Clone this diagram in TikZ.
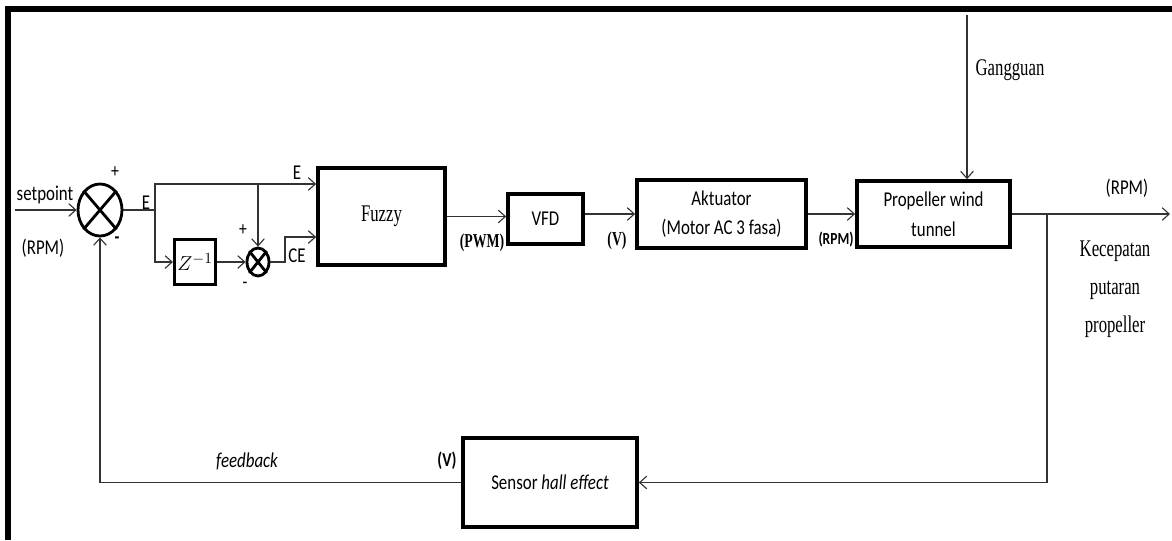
\documentclass[tikz,border=0pt]{standalone}
\usepackage{fontspec}
\setmainfont{Carlito}[FakeStretch=0.8]
\newfontfamily\timesc{Liberation Serif}[FakeStretch=0.7]
\usepackage{tikz}
\usetikzlibrary{arrows.meta,positioning,shapes.geometric}
\definecolor{WireGray}{HTML}{333333}
\tikzset{
  blokbox/.style={draw=black,line width=2.6pt,align=center,inner sep=2pt,font=\fontsize{15}{21}\selectfont,fill=white},
  sumnode/.style={draw=black,ellipse,line width=2pt,inner sep=0pt},
  sigarrow/.style={-{Straight Barb[length=5pt,width=9pt]},line width=0.8pt,draw=WireGray},
  lbl/.style={inner sep=1pt,font=\fontsize{15}{17}\selectfont},
  serlbl/.style={inner sep=1pt,align=center,font=\timesc\fontsize{17}{27}\selectfont},
  smallbold/.style={inner sep=1pt,font=\bfseries\fontsize{12}{13}\selectfont},
  signlbl/.style={inner sep=1pt,font=\fontsize{14}{15}\selectfont}
}

\begin{document}
\begin{tikzpicture}[x=0.025cm,y=-0.025cm]
\useasboundingbox (0,0) rectangle (1172,540);
% frame
\draw[line width=4.3pt] (8,540) -- (8,9) -- (1172,9);

% blocks
\node[sumnode,minimum width=1.1cm,minimum height=1.3cm] (sum1) at (100,210) {};
\draw[line width=2pt] (sum1.north west) -- (sum1.south east) (sum1.north east) -- (sum1.south west);
\node[blokbox,line width=2.2pt,minimum width=1.0cm,minimum height=1.125cm,font=\fontsize{15}{17}\selectfont] (zdel) at (195,262) {$Z^{-1}$};
\node[sumnode,minimum width=0.55cm,minimum height=0.7cm] (sum2) at (258,262) {};
\draw[line width=2pt] (sum2.north west) -- (sum2.south east) (sum2.north east) -- (sum2.south west);
\node[blokbox,font=\timesc\fontsize{17}{18}\selectfont,minimum width=3.175cm,minimum height=2.425cm] (fuzzy) at (381.5,216.5) {Fuzzy};
\node[blokbox,minimum width=1.875cm,minimum height=1.25cm] (vfd) at (545.5,219) {VFD};
\node[blokbox,minimum width=4.225cm,minimum height=1.7cm] (akt) at (721.5,214) {Aktuator\\(Motor AC 3 fasa)};
\node[blokbox,minimum width=3.825cm,minimum height=1.65cm] (prop) at (933.5,214) {Propeller wind\\tunnel};
\node[blokbox,minimum width=4.35cm,minimum height=2.225cm] (sensor) at (550,482.5) {Sensor \textit{hall effect}};

% connectors
\coordinate (spin) at (15,210);
\coordinate (eb) at (155,210);
\coordinate (eb2) at (258,184);
\coordinate (ceb) at (285,262);
\coordinate (ein) at ([yshift=0.8125cm]fuzzy.west);
\coordinate (cein) at ([yshift=-0.5125cm]fuzzy.west);
\coordinate (gang) at (967,15);
\coordinate (rpmout) at (1170,214);
\coordinate (fbtap) at (1047,214);
\draw[sigarrow] (spin) -- (sum1.west);
\draw[sigarrow] (sum1.east) -- (eb) |- (ein);
\draw[sigarrow] (eb) |- (zdel.west);
\draw[sigarrow] (eb2) -- (sum2.north);
\draw[sigarrow] (zdel) -- (sum2);
\draw[sigarrow] (sum2.east) -- (ceb) |- (cein);
\draw[sigarrow] (fuzzy.east) -- (fuzzy.east -| vfd.west);
\draw[sigarrow] (vfd.east |- akt.west) -- (akt.west);
\draw[sigarrow] (akt) -- (prop);
\draw[sigarrow] (gang) -- (gang |- prop.north);
\draw[sigarrow] (prop.east) -- (rpmout);
\draw[sigarrow] (fbtap) |- (sensor.east);
\draw[sigarrow] (sensor.west) -| (sum1.south);

% labels
\node[lbl] (setp) at (45,195) {setpoint};
\node[lbl] (rpmin) at (43,248) {(RPM)};
\node[signlbl] (plus1) at (115,172) {+};
\node[signlbl,font=\bfseries\fontsize{14}{15}\selectfont] (minus1) at (117,240) {-};
\node[lbl] (elbl) at (146,203) {E};
\node[lbl] (elbl2) at (297,173) {E};
\node[signlbl] (plus2) at (243,230) {+};
\node[signlbl] (minus2) at (245,285) {-};
\node[lbl] (celbl) at (297,256) {CE};
\node[serlbl,font=\timesc\bfseries\fontsize{14}{15}\selectfont] (pwm) at (482,243) {(PWM)};
\node[serlbl,font=\timesc\bfseries\fontsize{14}{15}\selectfont] (vlbl) at (617,241) {(V)};
\node[smallbold] (rpmak) at (836,240) {(RPM)};
\node[serlbl] (ganglbl) at (1010,70) {Gangguan};
\node[lbl] (rpmo) at (1127,188) {(RPM)};
\node[serlbl] (kec) at (1115,289) {Kecepatan\\putaran\\propeller};
\node[lbl,font=\itshape\fontsize{15}{17}\selectfont] (fblbl) at (247,461) {feedback};
\node[smallbold,font=\bfseries\fontsize{14}{15}\selectfont] (vsen) at (447,461) {(V)};
\end{tikzpicture}
\end{document}
